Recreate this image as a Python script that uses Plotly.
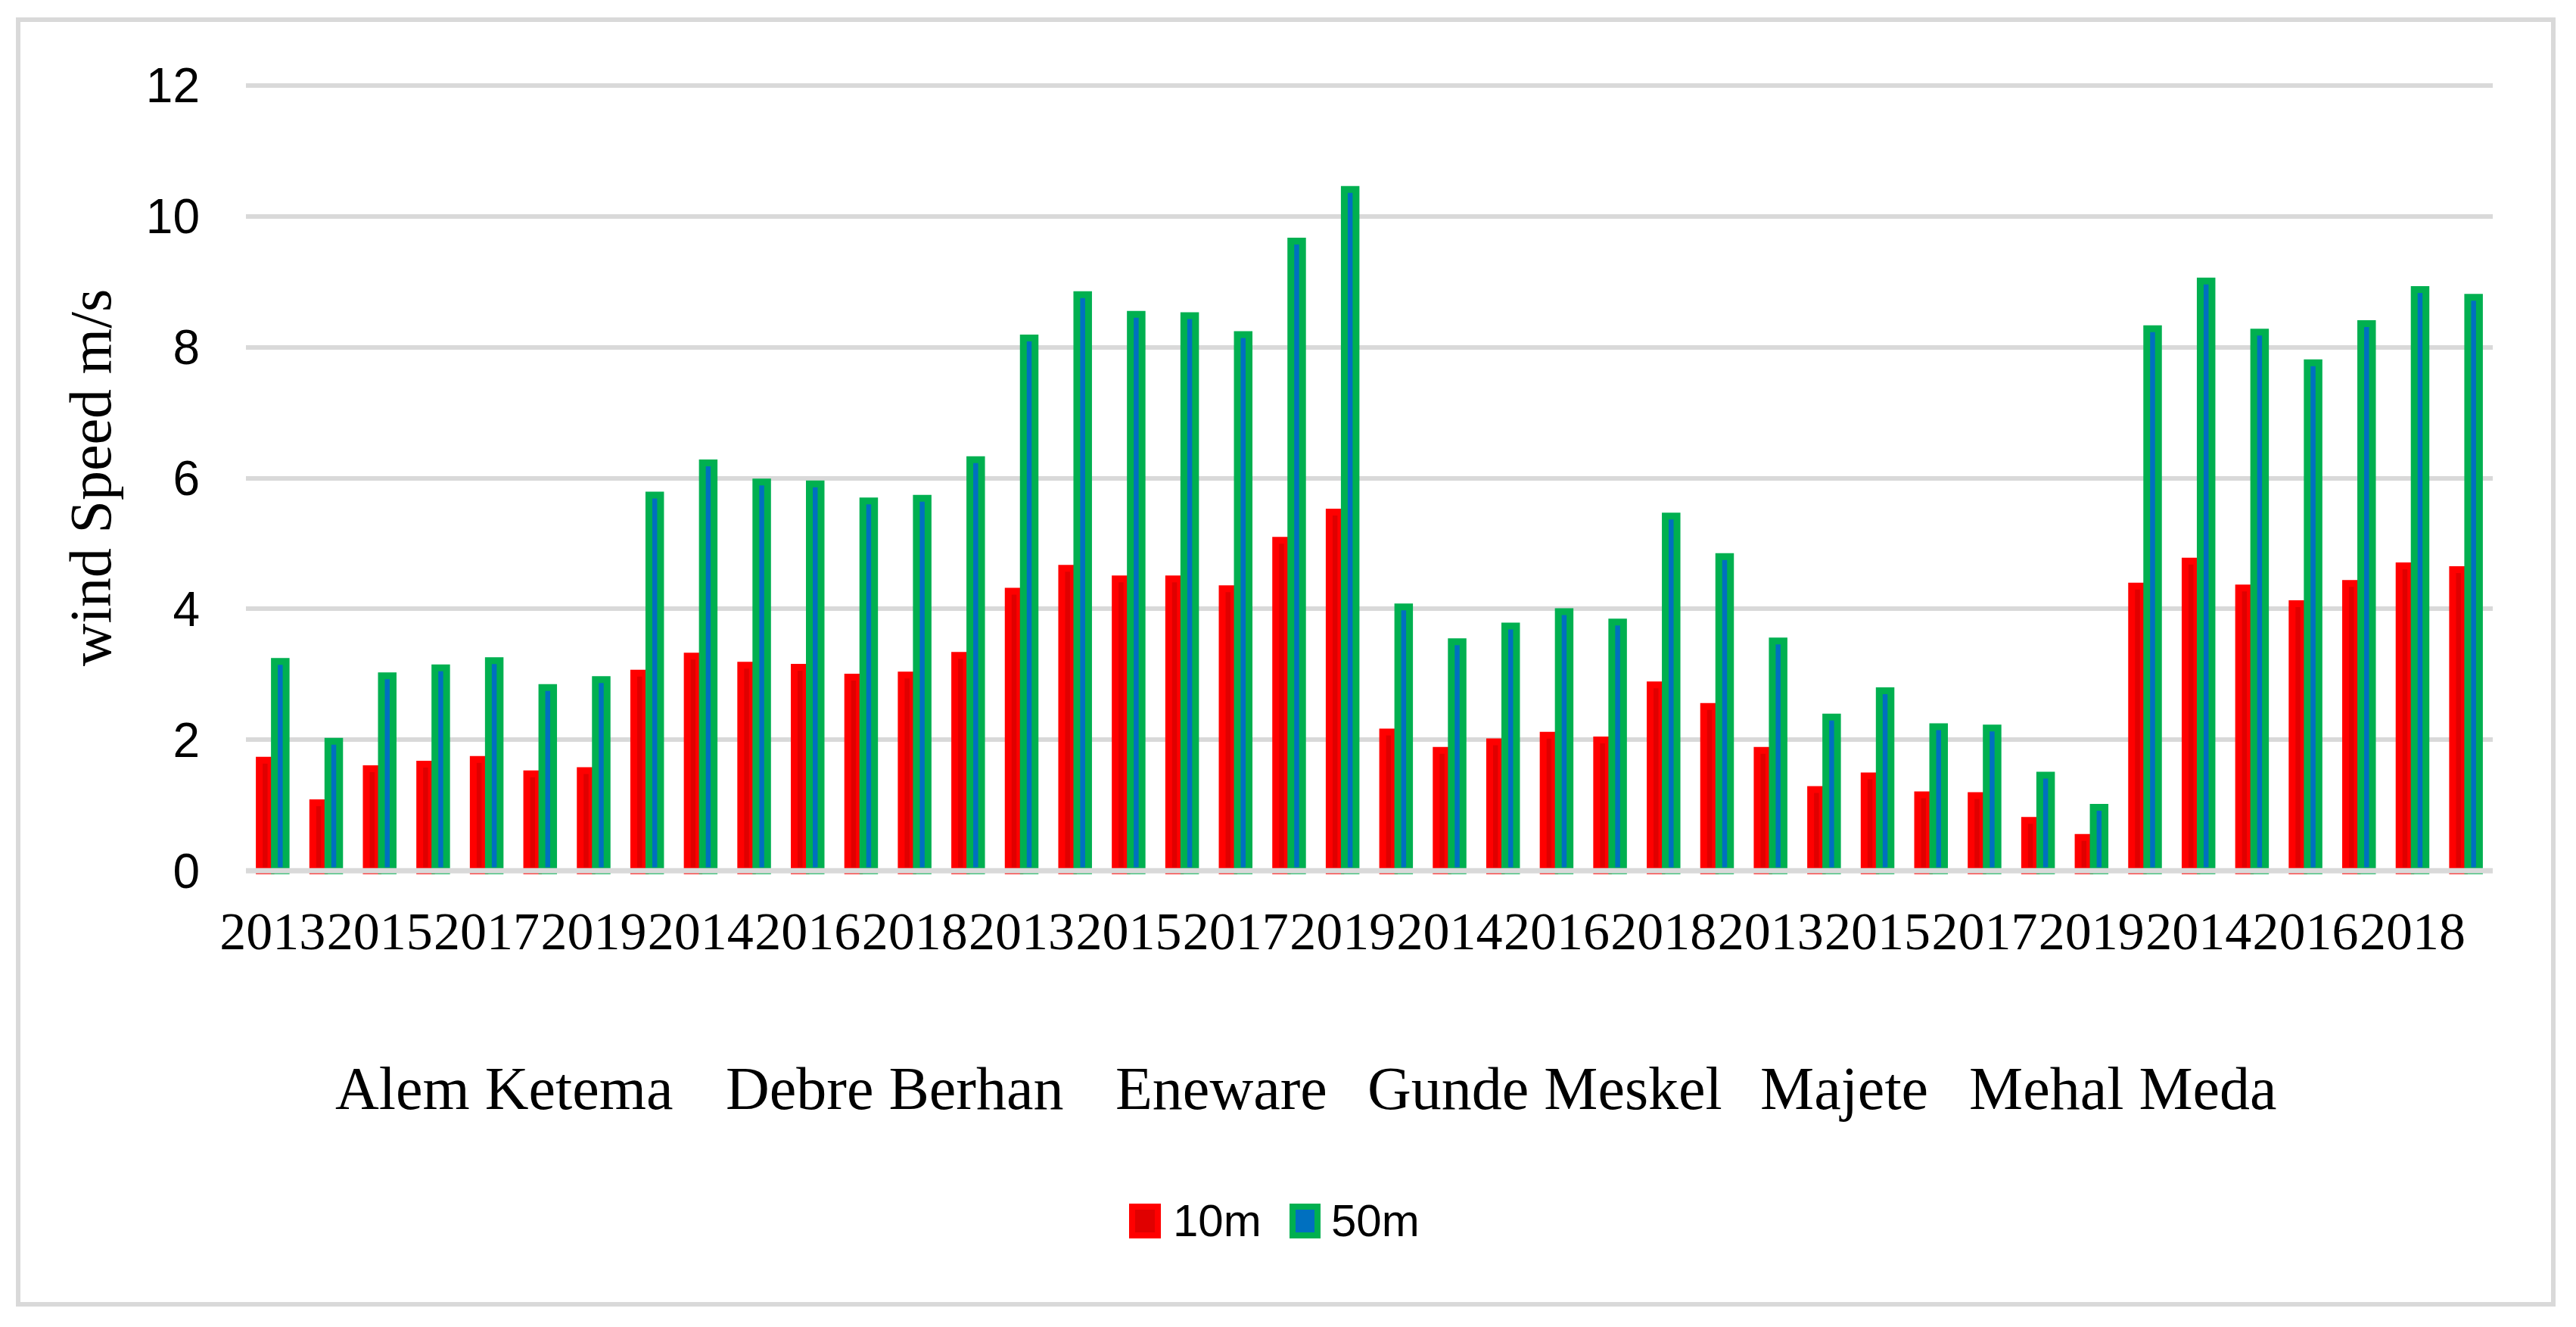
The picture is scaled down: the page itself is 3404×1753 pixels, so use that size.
import plotly.graph_objects as go

# ---------------- data ----------------
sites = ["Alem Ketema", "Debre Berhan", "Eneware", "Gunde Meskel", "Majete", "Mehal Meda"]
years = [2013, 2014, 2015, 2016, 2017, 2018, 2019]

speed_10m = [1.69, 1.04, 1.56, 1.63, 1.70, 1.48, 1.53,
             3.02, 3.28, 3.14, 3.11, 2.96, 2.99, 3.29,
             4.27, 4.62, 4.46, 4.46, 4.31, 5.05, 5.48,
             2.12, 1.84, 1.97, 2.07, 2.00, 2.84, 2.51,
             1.84, 1.24, 1.45, 1.16, 1.15, 0.77, 0.51,
             4.35, 4.73, 4.32, 4.08, 4.39, 4.66, 4.60]
speed_50m = [3.20, 1.98, 2.98, 3.10, 3.21, 2.80, 2.92,
             5.74, 6.23, 5.94, 5.91, 5.65, 5.69, 6.28,
             8.14, 8.80, 8.50, 8.48, 8.19, 9.62, 10.41,
             4.03, 3.50, 3.74, 3.96, 3.80, 5.42, 4.80,
             3.51, 2.35, 2.75, 2.20, 2.18, 1.46, 0.97,
             8.28, 9.01, 8.23, 7.76, 8.36, 8.88, 8.76]
series_names = ["10m", "50m"]
y_ticks = [0, 2, 4, 6, 8, 10, 12]
y_title = "wind Speed m/s"

# category index and labels
cat_x = list(range(len(sites) * len(years)))
cat_year = [str(years[i % len(years)]) for i in cat_x]
tick_idx = cat_x[::2]
tick_txt = [cat_year[i] for i in tick_idx]

# ---------------- figure ----------------
W, H = 3404, 1753
OFF = 8  # default page body margin in the browser
L, R, T = 325, 110, 104          # on-screen plot-area edges
plot_h = 1055
B = H - T - plot_h
plot_w = W - L - R

def px_x(px):
    return (px - L) / plot_w

def px_y(py):
    return (T + plot_h - py) / plot_h

bar_w = 0.219
fig = go.Figure()
fig.add_trace(go.Bar(x=cat_x, y=speed_10m, name=series_names[0],
                     width=bar_w, offset=-0.251,
                     marker=dict(color="#E00000", line=dict(color="#FF0000", width=9)),
                     showlegend=False))
fig.add_trace(go.Bar(x=cat_x, y=speed_50m, name=series_names[1],
                     width=bar_w, offset=0.032,
                     marker=dict(color="#0070C0", line=dict(color="#00B050", width=9)),
                     showlegend=False))

shapes = []
# zero line above bars
shapes.append(dict(type="line", xref="paper", yref="y", x0=0, x1=1, y0=0, y1=0,
                   line=dict(color="#D9D9D9", width=7), layer="above"))
# chart border
shapes.append(dict(type="rect", xref="paper", yref="paper",
                   x0=px_x(24), x1=px_x(3374), y0=px_y(1723), y1=px_y(26),
                   line=dict(color="#D9D9D9", width=6), fillcolor="rgba(0,0,0,0)", layer="below"))
# legend swatches
shapes.append(dict(type="rect", xref="paper", yref="paper",
                   x0=px_x(1496), x1=px_x(1530), y0=px_y(1632), y1=px_y(1594),
                   line=dict(color="#FF0000", width=8), fillcolor="#E00000"))
shapes.append(dict(type="rect", xref="paper", yref="paper",
                   x0=px_x(1708), x1=px_x(1741), y0=px_y(1632), y1=px_y(1594),
                   line=dict(color="#00B050", width=8), fillcolor="#0070C0"))

annotations = []
group_px = [666, 1182, 1614, 2041, 2437, 2805]
for name, gx in zip(sites, group_px):
    annotations.append(dict(text=name, x=px_x(gx), y=px_y(1438), xref="paper", yref="paper",
                            xanchor="center", yanchor="middle", showarrow=False,
                            font=dict(family="Liberation Serif, Times New Roman, serif", size=80, color="black")))
annotations.append(dict(text=series_names[0], x=px_x(1548), y=px_y(1612), xref="paper", yref="paper",
                        xanchor="left", yanchor="middle", showarrow=False,
                        font=dict(family="Liberation Sans, Arial, sans-serif", size=60, color="black")))
annotations.append(dict(text=series_names[1], x=px_x(1757), y=px_y(1612), xref="paper", yref="paper",
                        xanchor="left", yanchor="middle", showarrow=False,
                        font=dict(family="Liberation Sans, Arial, sans-serif", size=60, color="black")))
annotations.append(dict(text=y_title, x=px_x(119), y=px_y(631), xref="paper", yref="paper",
                        xanchor="center", yanchor="middle", showarrow=False, textangle=-90,
                        font=dict(family="Liberation Serif, Times New Roman, serif", size=78, color="black")))

fig.update_layout(
    width=W, height=H,
    margin=dict(l=L - OFF, r=R + OFF, t=T - OFF, b=B + OFF, autoexpand=False),
    paper_bgcolor="white", plot_bgcolor="white",
    barmode="overlay",
    shapes=shapes, annotations=annotations,
    showlegend=False,
    xaxis=dict(range=[-0.5, len(cat_x) - 0.5], tickmode="array", tickvals=tick_idx, ticktext=tick_txt,
               tickangle=0, showgrid=False, zeroline=False, showline=False, ticks="",
               ticklabelstandoff=24, automargin=False,
               tickfont=dict(family="Liberation Serif, Times New Roman, serif", size=70, color="black")),
    yaxis=dict(range=[-0.1, 12.1], tickmode="array", tickvals=y_ticks,
               showgrid=True, gridcolor="#D9D9D9", gridwidth=6, zeroline=False, showline=False,
               ticks="", ticklabelstandoff=60, automargin=False,
               tickfont=dict(family="Liberation Sans, Arial, sans-serif", size=64, color="black")),
)

fig.write_html("out.html")
